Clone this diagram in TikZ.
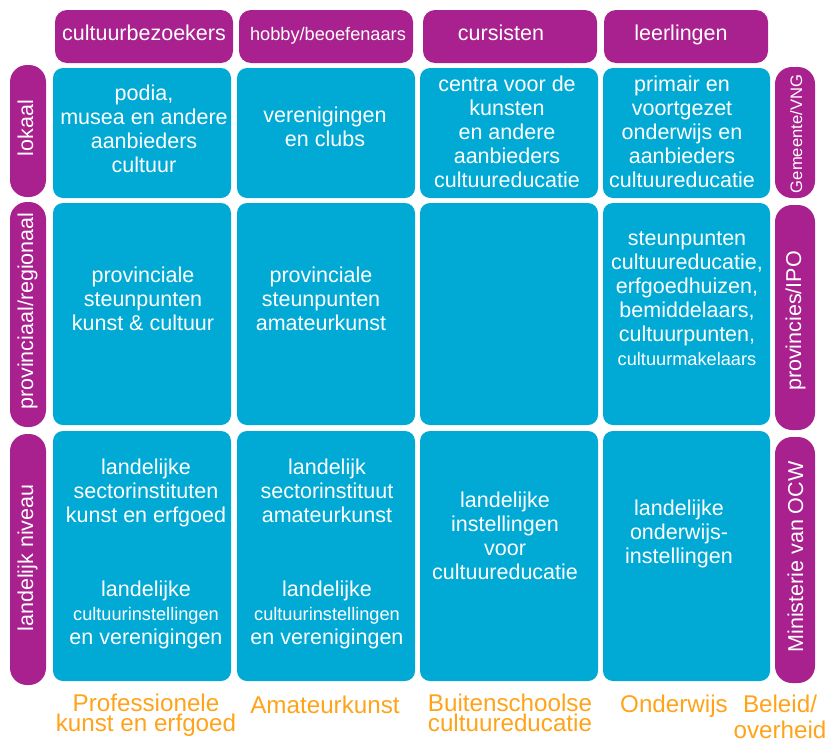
\documentclass[tikz,border=0pt]{standalone}
\usepackage{fontspec}
\setmainfont{Liberation Sans}
\definecolor{paars}{HTML}{A9218E}
\definecolor{blauw}{HTML}{00AAD5}
\definecolor{oranje}{HTML}{FFA31A}
\newcommand\romp{\fontsize{21.5}{24}\selectfont}
\newcommand\klein{\fontsize{18.2}{24}\selectfont}
\newcommand\groot{\fontsize{24.2}{20}\selectfont}
\tikzset{
  kop/.style={fill=paars,rounded corners=12pt},
  cel/.style={fill=blauw,rounded corners=10pt},
  zij/.style={fill=paars,rounded corners=17pt},
  tekst/.style={text=white,font=\romp,align=center,anchor=base,inner sep=0pt},
  staand/.style={tekst,rotate=90},
  sector/.style={text=oranje,font=\groot,align=center,anchor=base,inner sep=0pt}
}
\begin{document}
\begin{tikzpicture}[x=1pt,y=-1pt]
\useasboundingbox (0,0) rectangle (827,742);
% koppen
\fill[kop] (55,10) rectangle (233,63);
\fill[kop] (239,10) rectangle (413,63);
\fill[kop] (423,10) rectangle (597,63);
\fill[kop] (604,10) rectangle (768,63);
\node[tekst] (bezoekers) at (144,40) {cultuurbezoekers};
\node[tekst,font=\klein] (hobby) at (328,40) {hobby/beoefenaars};
\node[tekst] (cursisten) at (501,40) {cursisten};
\node[tekst] (leerlingen) at (681,40) {leerlingen};
% links
\fill[zij] (10,65) rectangle (46,197);
\fill[zij] (10,202) rectangle (46,427);
\fill[zij] (10,434) rectangle (46,685);
\node[staand] (lokaal) at (33,128) {lokaal};
\node[staand] (provinciaal) at (33,311) {provinciaal/regionaal};
\node[staand] (landelijk) at (33,558) {landelijk niveau};
% rechts
\fill[zij] (775,67) rectangle (815,198);
\fill[zij] (775,205) rectangle (815,430);
\fill[zij] (775,437) rectangle (815,683);
\node[staand,font=\fontsize{16.6}{20}\selectfont] (vng) at (802,134) {Gemeente/VNG};
\node[staand] (ipo) at (801,321) {provincies/IPO};
\node[staand] (ocw) at (803,557) {Ministerie van OCW};
% cellen
\fill[cel] (53,68) rectangle (231,198);
\fill[cel] (237,68) rectangle (415,198);
\fill[cel] (420,68) rectangle (598,198);
\fill[cel] (603,68) rectangle (770,198);
\fill[cel] (53,203) rectangle (231,425);
\fill[cel] (237,203) rectangle (415,425);
\fill[cel] (420,203) rectangle (598,425);
\fill[cel] (603,203) rectangle (770,425);
\fill[cel] (53,431) rectangle (231,681);
\fill[cel] (237,431) rectangle (415,681);
\fill[cel] (420,431) rectangle (598,681);
\fill[cel] (603,431) rectangle (770,681);
% lokaal
\node[tekst] (podia) at (144,172) {podia,\\musea en andere\\aanbieders\\cultuur};
\node[tekst] (clubs) at (325,146) {verenigingen\\en clubs};
\node[tekst] (centra) at (507,187) {centra voor de\\kunsten\\en andere\\aanbieders\\cultuureducatie};
\node[tekst] (primair) at (682,187) {primair en\\voortgezet\\onderwijs en\\aanbieders\\cultuureducatie};
% provinciaal
\node[tekst] (stprof) at (143,330) {provinciale\\steunpunten\\kunst \& cultuur};
\node[tekst] (stama) at (321,330) {provinciale\\steunpunten\\amateurkunst};
\node[tekst] (stond) at (687,365) {steunpunten\\cultuureducatie,\\erfgoedhuizen,\\bemiddelaars,\\cultuurpunten,\\{\klein cultuurmakelaars}};
% landelijk
\node[tekst] (secprof) at (146,522) {landelijke\\sectorinstituten\\kunst en erfgoed};
\node[tekst] (instprof) at (146,644) {landelijke\\{\klein cultuurinstellingen}\\en verenigingen};
\node[tekst] (secama) at (327,522) {landelijk\\sectorinstituut\\amateurkunst};
\node[tekst] (instama) at (327,644) {landelijke\\{\klein cultuurinstellingen}\\en verenigingen};
\node[tekst] (instbui) at (505,579) {landelijke\\instellingen\\voor\\cultuureducatie};
\node[tekst] (instond) at (679,563) {landelijke\\onderwijs-\\instellingen};
% sectoren
\node[sector] (prof) at (146,731) {Professionele\\kunst en erfgoed};
\node[sector] (ama) at (325,713) {Amateurkunst};
\node[sector] (bui) at (510,731) {Buitenschoolse\\cultuureducatie};
\node[sector] (ond) at (674,712) {Onderwijs};
\node[sector,font=\fontsize{24.2}{26}\selectfont] (beleid) at (780,738) {Beleid/\\overheid};
\end{tikzpicture}
\end{document}
